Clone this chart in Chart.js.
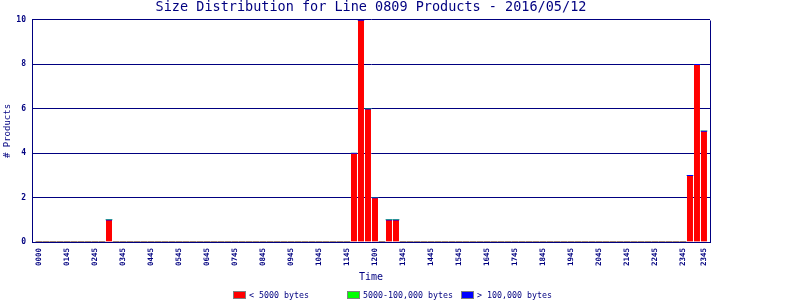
<!DOCTYPE html>
<html>
<head>
<meta charset="utf-8">
<script src="https://cdn.jsdelivr.net/npm/chart.js@4/dist/chart.umd.min.js"></script>
<style>
html,body{margin:0;padding:0;background:#ffffff;}
#wrap{width:800px;height:300px;}
</style>
</head>
<body>
<div id="wrap"><canvas id="c" width="800" height="300"></canvas></div>
<script>
// ---- data ----
const timeSlots = [
  "0000","0015","0030","0045","0100","0115","0130","0145","0200","0215","0230","0245",
  "0300","0315","0330","0345","0400","0415","0430","0445","0500","0515","0530","0545",
  "0600","0615","0630","0645","0700","0715","0730","0745","0800","0815","0830","0845",
  "0900","0915","0930","0945","1000","1015","1030","1045","1100","1115","1130","1145",
  "1200","1215","1230","1245","1300","1315","1330","1345","1400","1415","1430","1445",
  "1500","1515","1530","1545","1600","1615","1630","1645","1700","1715","1730","1745",
  "1800","1815","1830","1845","1900","1915","1930","1945","2000","2015","2030","2045",
  "2100","2115","2130","2145","2200","2215","2230","2245","2300","2315","2330","2345"
];
const tickSlots = [0,4,8,12,16,20,24,28,32,36,40,44,48,52,56,60,64,68,72,76,80,84,88,92,95];
const tickLabels = ["0000","0145","0245","0345","0445","0545","0645","0745","0845","0945",
  "1045","1145","1200","1345","1445","1545","1645","1745","1845","1945","2045","2145",
  "2245","2345","2345"];
const seriesNames = ["< 5000 bytes", "5000-100,000 bytes", "> 100,000 bytes"];
const smallCounts = [
  0,0,0,0,0,0,0,0,0,0,1,0,0,0,0,0,
  0,0,0,0,0,0,0,0,0,0,0,0,0,0,0,0,
  0,0,0,0,0,0,0,0,0,0,0,0,0,4,10,6,
  2,0,1,1,0,0,0,0,0,0,0,0,0,0,0,0,
  0,0,0,0,0,0,0,0,0,0,0,0,0,0,0,0,
  0,0,0,0,0,0,0,0,0,0,0,0,0,3,8,5
];
const mediumCounts = [
  0,0,0,0,0,0,0,0,0,0,0,0,0,0,0,0,
  0,0,0,0,0,0,0,0,0,0,0,0,0,0,0,0,
  0,0,0,0,0,0,0,0,0,0,0,0,0,0,0,0,
  0,0,0,0,0,0,0,0,0,0,0,0,0,0,0,0,
  0,0,0,0,0,0,0,0,0,0,0,0,0,0,0,0,
  0,0,0,0,0,0,0,0,0,0,0,0,0,0,0,0
];
const largeCounts = [
  0,0,0,0,0,0,0,0,0,0,0,0,0,0,0,0,
  0,0,0,0,0,0,0,0,0,0,0,0,0,0,0,0,
  0,0,0,0,0,0,0,0,0,0,0,0,0,0,0,0,
  0,0,0,0,0,0,0,0,0,0,0,0,0,0,0,0,
  0,0,0,0,0,0,0,0,0,0,0,0,0,0,0,0,
  0,0,0,0,0,0,0,0,0,0,0,0,0,0,0,0
];

// ---- styles ----
const NAVY = '#000080';
const MONO = '"DejaVu Sans Mono", "Liberation Mono", monospace';
const seriesColors = ['#ff0000', '#00ff00', '#0000ff'];

function toPoints(arr) {
  return arr.map((v, i) => ({ x: i, y: v, slot: timeSlots[i] }));
}

const framePlugin = {
  id: 'frame',
  afterDraw(chart) {
    const a = chart.chartArea, ctx = chart.ctx;
    ctx.save();
    ctx.strokeStyle = NAVY;
    ctx.lineWidth = 1;
    ctx.beginPath();
    ctx.moveTo(Math.round(a.right) + 0.5, Math.round(a.top) + 0.5);
    ctx.lineTo(Math.round(a.right) + 0.5, Math.round(a.bottom) + 0.5);
    ctx.stroke();
    ctx.restore();
  }
};

const legendPlugin = {
  id: 'fixedLegend',
  afterDraw(chart) {
    const ctx = chart.ctx;
    const startX = 233, colW = 114, boxY = 291, boxW = 13, boxH = 8;
    ctx.save();
    ctx.font = '8.3px ' + MONO;
    ctx.textBaseline = 'middle';
    ctx.textAlign = 'left';
    seriesNames.forEach((name, i) => {
      const x = startX + i * colW;
      ctx.fillStyle = seriesColors[i];
      ctx.fillRect(x, boxY, boxW, boxH);
      ctx.strokeStyle = '#808080';
      ctx.lineWidth = 1;
      ctx.strokeRect(x + 0.5, boxY + 0.5, boxW - 1, boxH - 1);
      ctx.fillStyle = NAVY;
      ctx.fillText(name, x + boxW + 3, boxY + boxH / 2 + 0.5);
    });
    ctx.restore();
  }
};

const ctx = document.getElementById('c').getContext('2d');
new Chart(ctx, {
  type: 'bar',
  data: {
    datasets: [
      {
        label: seriesNames[0],
        data: toPoints(smallCounts),
        backgroundColor: seriesColors[0],
        borderColor: '#0000ff',
        borderWidth: { top: 1, left: 0, right: 0, bottom: 0 },
        barThickness: 6
      },
      {
        label: seriesNames[1],
        data: toPoints(mediumCounts),
        backgroundColor: seriesColors[1],
        borderWidth: 0,
        barThickness: 6
      },
      {
        label: seriesNames[2],
        data: toPoints(largeCounts),
        backgroundColor: seriesColors[2],
        borderWidth: 0,
        barThickness: 6
      }
    ]
  },
  options: {
    responsive: false,
    animation: false,
    devicePixelRatio: 1,
    layout: { padding: { left: 0, right: 90, top: 0, bottom: 0 } },
    plugins: {
      legend: { display: false },
      tooltip: { enabled: false },
      title: {
        display: true,
        text: 'Size Distribution for Line 0809 Products - 2016/05/12',
        color: NAVY,
        fullSize: false,
        font: { family: MONO, size: 13.5, weight: 'normal', lineHeight: 1.185 },
        padding: { top: 0, bottom: 4 }
      }
    },
    scales: {
      x: {
        type: 'linear',
        stacked: true,
        offset: false,
        min: -1,
        max: 95.86,
        grid: { display: false, drawTicks: false },
        border: { color: NAVY, width: 1 },
        afterBuildTicks: (s) => { s.ticks = tickSlots.map(v => ({ value: v })); },
        afterFit: (s) => { s.height = 58; },
        ticks: {
          autoSkip: false,
          minRotation: 90,
          maxRotation: 90,
          padding: 6,
          color: NAVY,
          font: { family: MONO, size: 7.5, weight: 'bold' },
          callback: (v) => {
            const k = tickSlots.indexOf(v);
            return k < 0 ? '' : tickLabels[k];
          }
        },
        title: {
          display: true,
          text: 'Time',
          color: NAVY,
          font: { family: MONO, size: 10, weight: 'normal', lineHeight: 1.2 },
          padding: { top: 0, bottom: 17 }
        }
      },
      y: {
        stacked: true,
        min: 0,
        max: 10,
        grid: { color: NAVY, lineWidth: 1, drawTicks: false },
        border: { color: NAVY, width: 1 },
        afterFit: (s) => { s.width = 32; },
        ticks: {
          stepSize: 2,
          padding: 6,
          color: NAVY,
          font: { family: MONO, size: 8, weight: 'bold' }
        },
        title: {
          display: true,
          text: '# Products',
          color: NAVY,
          font: { family: MONO, size: 9, weight: 'normal', lineHeight: 1.2 },
          padding: { top: 2, bottom: 0 }
        }
      }
    }
  },
  plugins: [framePlugin, legendPlugin]
});
</script>
</body>
</html>
